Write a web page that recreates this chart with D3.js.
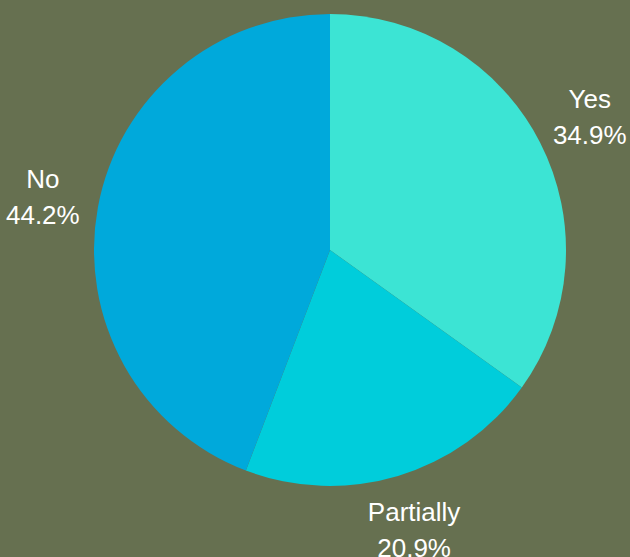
<!DOCTYPE html>
<html>
<head>
<meta charset="utf-8">
<script src="https://cdn.jsdelivr.net/npm/d3@7"></script>
<style>
  html, body { margin: 0; padding: 0; background: #667050; }
  svg { display: block; }
</style>
</head>
<body>
<svg id="chart" width="630" height="557"></svg>
<script>
const categories = ["Yes", "Partially", "No"];
const values = [34.9, 20.9, 44.2];
const colors = ["#3ce4d4", "#00cddb", "#00a9db"];

const width = 630, height = 557;
const cx = 330, cy = 250, radius = 236, labelRadius = 292;

const svg = d3.select("#chart");
svg.append("rect").attr("width", width).attr("height", height).attr("fill", "#667050");

const data = categories.map((c, i) => ({ name: c, value: values[i], color: colors[i] }));

const pie = d3.pie().value(d => d.value).sort(null);
const arcs = pie(data);
const arc = d3.arc().innerRadius(0).outerRadius(radius);

const g = svg.append("g").attr("transform", `translate(${cx},${cy})`);

g.selectAll("path.slice")
  .data(arcs)
  .join("path")
  .attr("class", "slice")
  .attr("d", arc)
  .attr("fill", d => d.data.color);

const labels = g.selectAll("text.label")
  .data(arcs)
  .join("text")
  .attr("class", "label")
  .attr("text-anchor", "middle")
  .attr("fill", "#ffffff")
  .attr("font-family", "'Liberation Sans', Arial, sans-serif")
  .attr("font-size", 26)
  .attr("transform", d => {
    const a = (d.startAngle + d.endAngle) / 2;
    return `translate(${labelRadius * Math.sin(a)},${-labelRadius * Math.cos(a)})`;
  });

labels.append("tspan").attr("x", 0).attr("y", -9).text(d => d.data.name);
labels.append("tspan").attr("x", 0).attr("y", 27).text(d => d.data.value.toFixed(1) + "%");
</script>
</body>
</html>
